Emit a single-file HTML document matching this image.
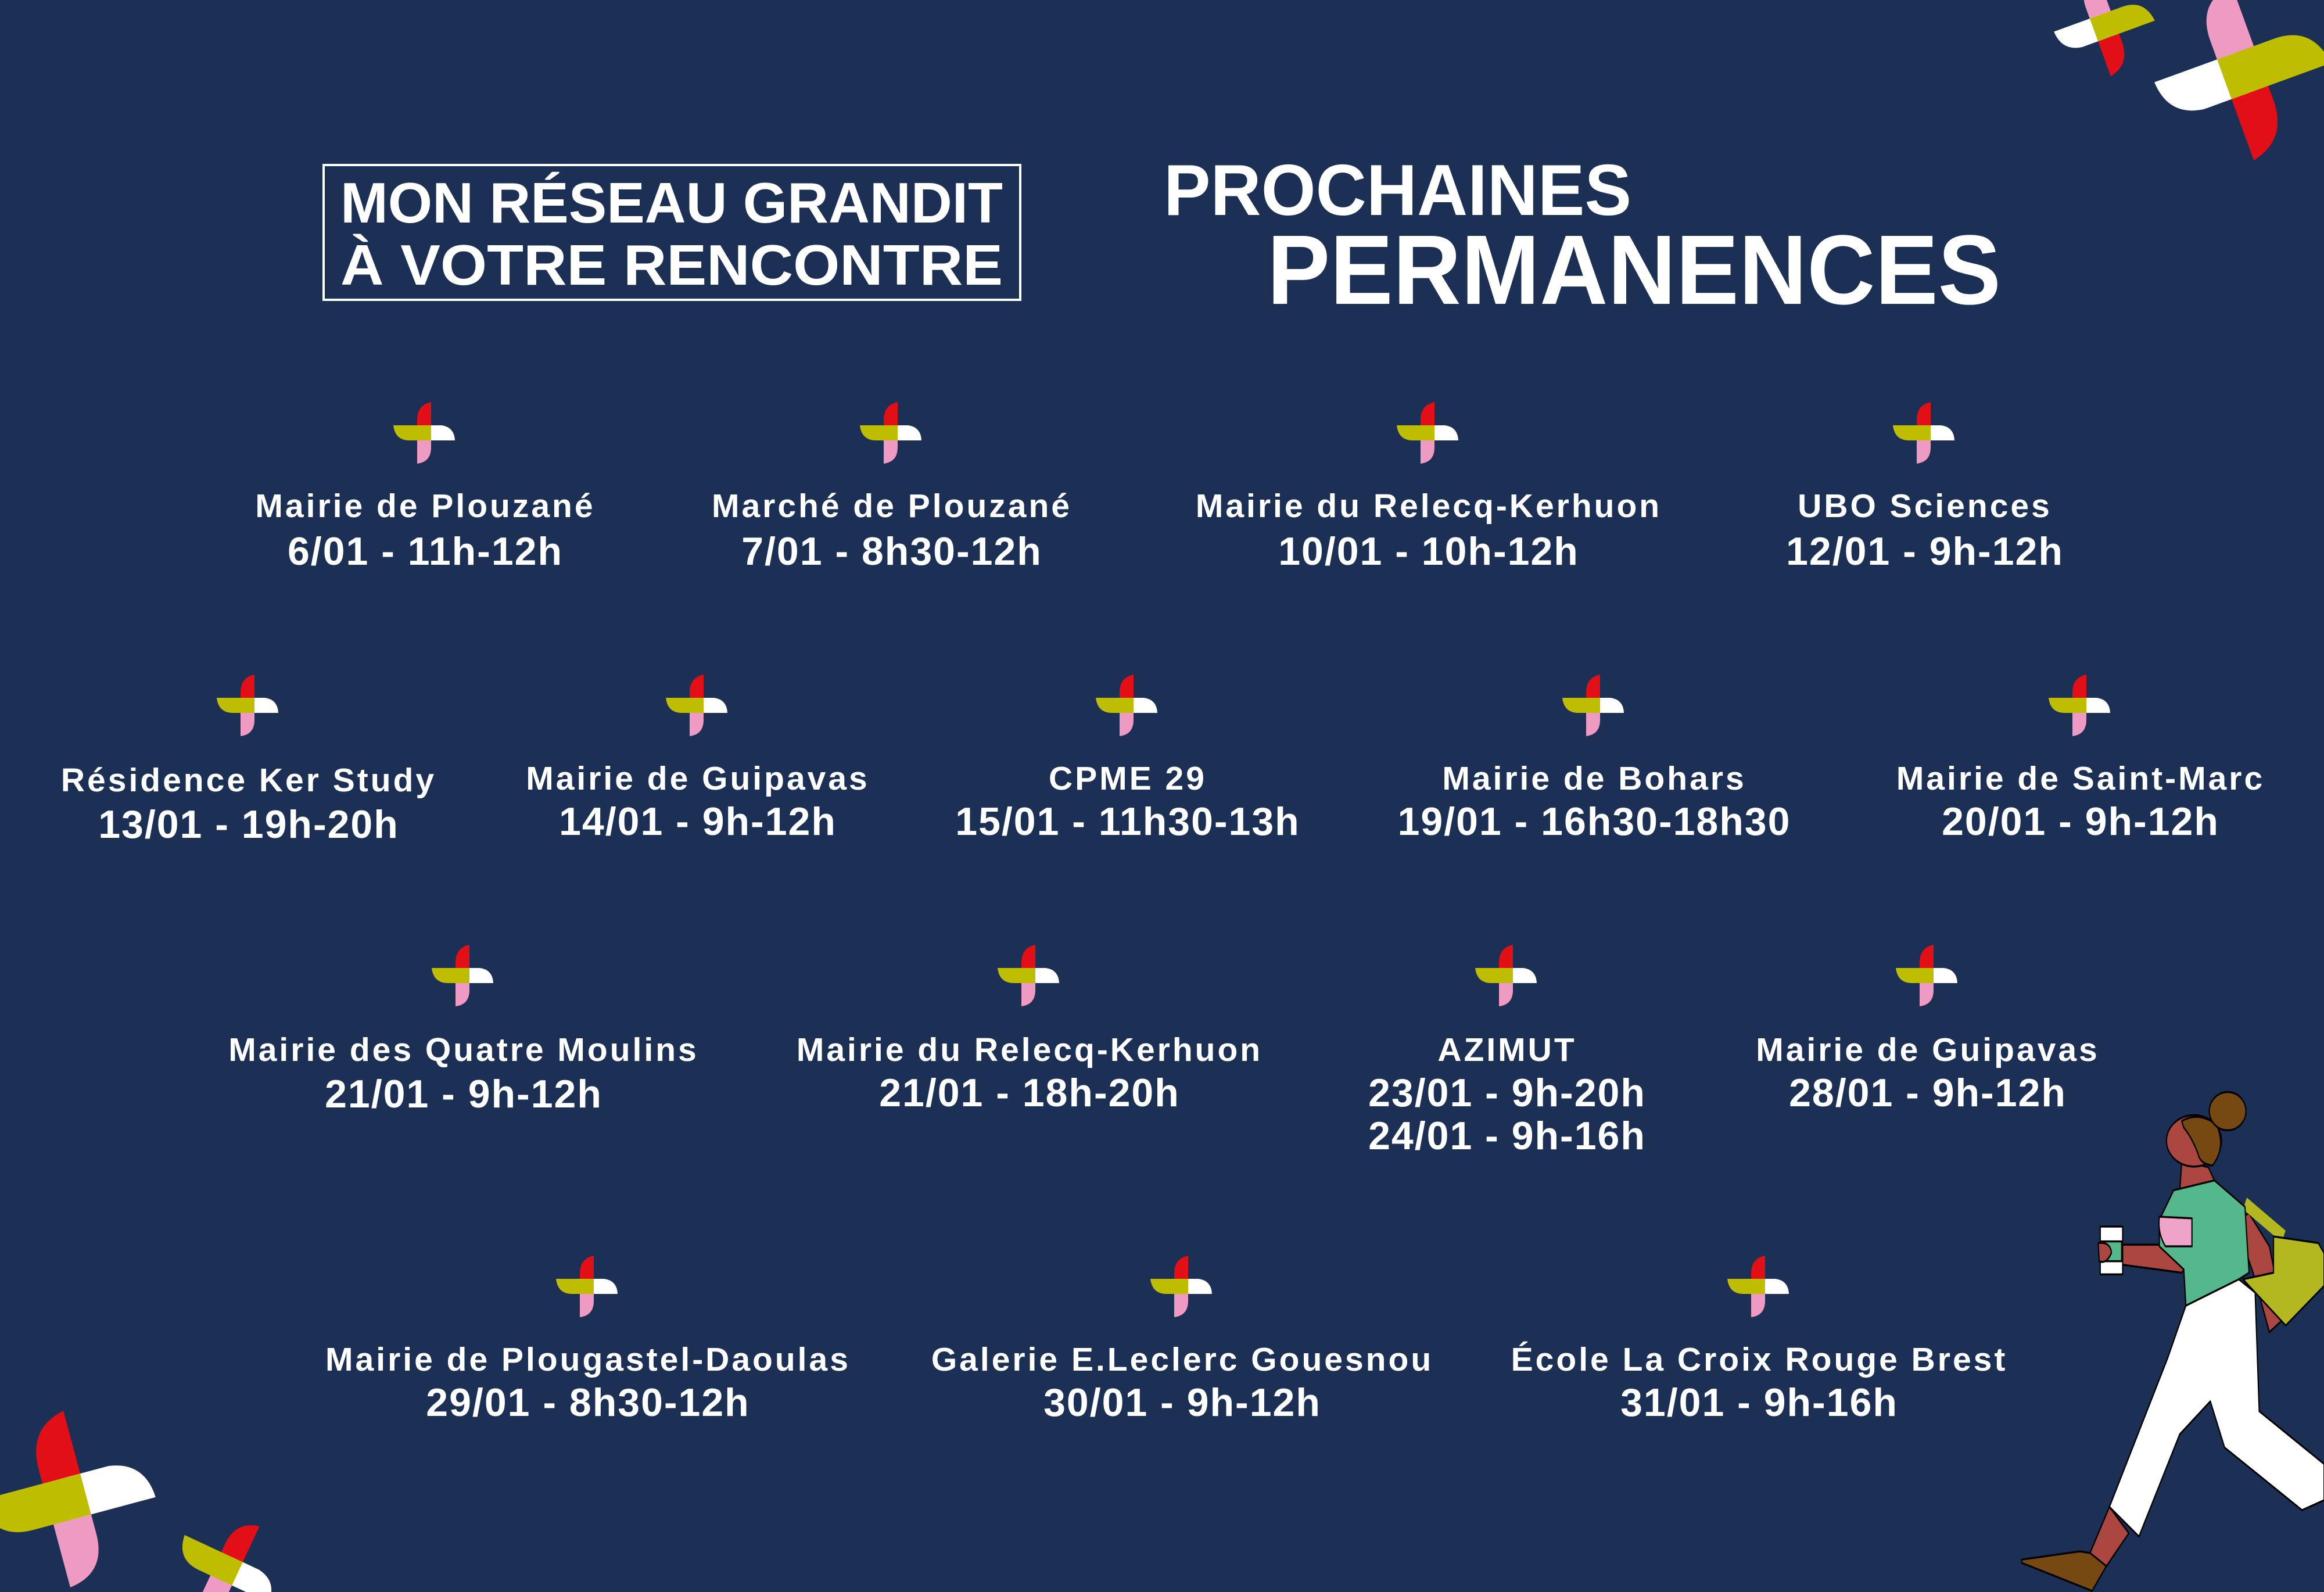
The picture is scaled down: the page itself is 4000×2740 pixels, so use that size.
<!DOCTYPE html>
<html><head><meta charset="utf-8"><style>
html,body{margin:0;padding:0;background:#1c2f55;}
svg{display:block}
text{font-family:"Liberation Sans",sans-serif;font-weight:bold;fill:#fff;text-anchor:middle}
.n{font-size:57px;letter-spacing:4px}.d{font-size:68px;letter-spacing:2px}
</style></head><body>
<svg width="4000" height="2740" viewBox="0 0 4000 2740" xmlns="http://www.w3.org/2000/svg">
<defs>
<g id="pw">
<path d="M-12,0 L-12,-22 Q-12,-48 12,-53 L12,0 Z" fill="#e30f16"/>
<path d="M-12,0 L-12,53 Q12,50 12,25 L12,0 Z" fill="#ef9ac3"/>
<path d="M0,-13 L30,-13 Q52,-10 53,13 L0,13 Z" fill="#fff"/>
<path d="M12,-13 L-53,-13 Q-50,13 -25,13 L12,13 Z" fill="#bebd00"/>
</g>
</defs>
<rect width="4000" height="2740" fill="#1c2f55"/>
<rect x="557" y="284" width="1199" height="232" fill="none" stroke="#fff" stroke-width="4"/>
<text x="1156" y="383" style="font-size:98px" textLength="1140" lengthAdjust="spacingAndGlyphs">MON RÉSEAU GRANDIT</text>
<text x="1156" y="490" style="font-size:98px" textLength="1140" lengthAdjust="spacingAndGlyphs">À VOTRE RENCONTRE</text>
<text x="2003" y="370" style="font-size:124px;text-anchor:start" textLength="805" lengthAdjust="spacingAndGlyphs">PROCHAINES</text>
<text x="2181" y="523" style="font-size:170px;text-anchor:start" textLength="1263" lengthAdjust="spacingAndGlyphs">PERMANENCES</text>

<g transform="translate(2,0)">
<use href="#pw" x="728" y="745"/><text class="n" x="730" y="890">Mairie de Plouzané</text><text class="d" x="730" y="972">6/01 - 11h-12h</text>
<use href="#pw" x="1531" y="745"/><text class="n" x="1533" y="890">Marché de Plouzané</text><text class="d" x="1533" y="972">7/01 - 8h30-12h</text>
<use href="#pw" x="2455" y="745"/><text class="n" x="2457" y="890">Mairie du Relecq-Kerhuon</text><text class="d" x="2457" y="972">10/01 - 10h-12h</text>
<use href="#pw" x="3309" y="745"/><text class="n" x="3311" y="890">UBO Sciences</text><text class="d" x="3311" y="972">12/01 - 9h-12h</text>

<use href="#pw" x="424" y="1214"/><text class="n" x="426" y="1362">Résidence Ker Study</text><text class="d" x="426" y="1442">13/01 - 19h-20h</text>
<use href="#pw" x="1197" y="1214"/><text class="n" x="1199" y="1359">Mairie de Guipavas</text><text class="d" x="1199" y="1437">14/01 - 9h-12h</text>
<use href="#pw" x="1937" y="1214"/><text class="n" x="1939" y="1359">CPME 29</text><text class="d" x="1939" y="1437">15/01 - 11h30-13h</text>
<use href="#pw" x="2740" y="1214"/><text class="n" x="2742" y="1359">Mairie de Bohars</text><text class="d" x="2742" y="1437">19/01 - 16h30-18h30</text>
<use href="#pw" x="3577" y="1214"/><text class="n" x="3579" y="1359">Mairie de Saint-Marc</text><text class="d" x="3579" y="1437">20/01 - 9h-12h</text>

<use href="#pw" x="794" y="1679"/><text class="n" x="796" y="1826">Mairie des Quatre Moulins</text><text class="d" x="796" y="1906">21/01 - 9h-12h</text>
<use href="#pw" x="1768" y="1679"/><text class="n" x="1770" y="1826">Mairie du Relecq-Kerhuon</text><text class="d" x="1770" y="1904">21/01 - 18h-20h</text>
<use href="#pw" x="2590" y="1679"/><text class="n" x="2592" y="1826">AZIMUT</text><text class="d" x="2592" y="1904">23/01 - 9h-20h</text><text class="d" x="2592" y="1978">24/01 - 9h-16h</text>
<use href="#pw" x="3314" y="1679"/><text class="n" x="3316" y="1826">Mairie de Guipavas</text><text class="d" x="3316" y="1904">28/01 - 9h-12h</text>

<use href="#pw" x="1008" y="2214"/><text class="n" x="1010" y="2359">Mairie de Plougastel-Daoulas</text><text class="d" x="1010" y="2437">29/01 - 8h30-12h</text>
<use href="#pw" x="2031" y="2214"/><text class="n" x="2033" y="2359">Galerie E.Leclerc Gouesnou</text><text class="d" x="2033" y="2437">30/01 - 9h-12h</text>
<use href="#pw" x="3024" y="2214"/><text class="n" x="3026" y="2359">École La Croix Rouge Brest</text><text class="d" x="3026" y="2437">31/01 - 9h-16h</text>
</g>

<use href="#pw" transform="translate(3860,125) rotate(160) scale(2.8)"/>
<use href="#pw" transform="translate(3622,45) rotate(160) scale(1.6)"/>
<use href="#pw" transform="translate(115,2580) rotate(-15) scale(2.8)"/>
<use href="#pw" transform="translate(390,2700) rotate(25) scale(1.7)"/>

<g transform="translate(3450,1850) scale(0.3508,0.5675)" stroke="#000" stroke-width="6" stroke-linejoin="round">
<path d="M1130,440 L1200,420 L1300,520 L1370,740 L1300,780 L1220,600 Z" fill="#ab4740"/>
<path d="M1180,390 L1370,490" stroke="#b3b820" stroke-width="40"/>
<path d="M1320,490 L1540,510 L1568,540 L1568,640 L1380,760 L1290,700 L1170,620 L1320,600 Z" fill="#b3b820"/>
<path d="M870,260 L1000,280 L1030,320 L860,355 Z" fill="#ab4740"/>
<path d="M580,515 L770,515 L880,590 L870,600 L570,575 Z" fill="#ab4740"/>
<rect x="470" y="460" width="110" height="145" fill="#fff"/>
<rect x="470" y="505" width="105" height="60" fill="#55b88c"/>
<path d="M460,510 Q520,505 525,540 Q500,575 465,565 Z" fill="#ab4740"/>
<path d="M760,440 L830,350 L1030,320 L1180,400 L1200,600 L1150,620 L890,700 L880,590 L760,520 Z" fill="#55b88c"/>
<path d="M760,430 L920,435 L920,520 L790,520 Q750,480 760,430 Z" fill="#f0a3c8"/>
<path d="M515,1310 L420,1450 L500,1490 L610,1390 Z" fill="#ab4740"/>
<path d="M85,1470 L370,1445 L420,1450 L500,1490 L430,1565 L85,1480 Z" fill="#764913"/>
<path d="M890,700 L1150,620 L1230,660 L1250,1020 L1568,1180 L1568,1290 L1460,1320 L1080,1130 L1010,990 L860,1090 L660,1400 L515,1310 L800,860 Z" fill="#fff"/>
<ellipse cx="930" cy="200" rx="135" ry="78" fill="#ab4740"/>
<path d="M870,140 Q950,110 1040,150 Q1090,220 1020,275 Q960,270 950,240 Q920,190 880,160 Z" fill="#764913"/>
<ellipse cx="1095" cy="110" rx="90" ry="58" fill="#764913"/>
</g>
</svg>
</body></html>
